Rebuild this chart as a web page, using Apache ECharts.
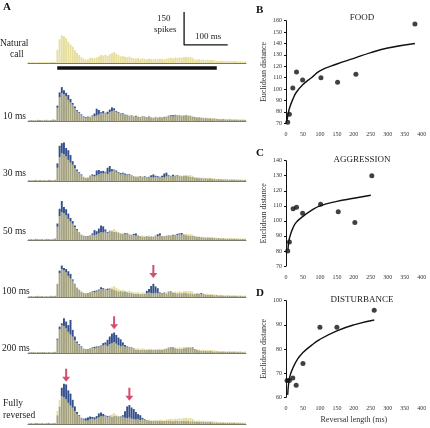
<!DOCTYPE html>
<html><head><meta charset="utf-8">
<script src="https://cdn.jsdelivr.net/npm/echarts@6/dist/echarts.min.js"></script>
<style>html,body{margin:0;padding:0;background:#fff}#c{width:430px;height:428px}</style>
</head><body><div id="c"></div>
<script>
// ---------- Panel A data (spikes per 5 ms bin, 0-500 ms) ----------
const BIN_MS = 5;
const natural = [4,3,5,3,4,4,3,5,4,3, 4,5,4,60,108,126,122,112,96,84, 74,58,46,36,26,20,15,16,22,24,
  21,25,30,36,34,38,32,40,44,50, 42,36,30,33,28,26,29,24,22,20, 23,18,21,19,17,20,18,16,19,17,
  20,18,16,21,22,24,21,25,23,26, 24,27,28,26,27,24,16,15,17,14, 16,13,15,12,14,12,10,9,10,8, 9,8,10,7,9,8,7,8,6,7];
const rev10 = [3,4,4,3,5,4,3,4,5,3, 4,6,5,70,130,154,140,128,118,100, 82,66,50,40,30,22,18,20,18,26,
  34,56,50,40,45,38,42,52,62,58, 46,40,34,36,30,28,24,26,22,24, 20,18,22,20,18,22,17,15,18,16,
  18,17,19,20,24,27,26,28,25,27, 24,26,27,25,23,20,18,16,17,15, 13,14,12,13,11,12,10,9,8,9, 8,7,8,7,6,7,6,5,6,5];
const rev30 = [4,3,4,5,3,4,3,4,3,5, 4,3,5,80,160,172,175,150,140,118, 90,72,52,40,30,18,14,16,24,30,
  28,48,50,44,46,42,60,68,54,52, 48,40,36,38,34,30,32,26,22,20, 18,21,19,22,18,20,26,30,24,22,
  20,24,34,38,26,24,28,25,26,24, 22,23,25,22,20,18,16,15,13,14, 12,13,11,12,10,9,8,9,8,7, 8,7,6,7,6,5,6,5,4,5];
const rev50 = [3,4,3,5,4,3,4,3,5,4, 3,4,6,75,142,177,150,140,120,100, 86,66,50,36,24,20,17,18,22,30,
  45,40,52,66,62,48,36,42,40,38, 37,34,30,28,32,30,26,24,28,30, 22,18,16,15,18,16,17,15,20,26,
  30,18,17,20,22,21,24,23,28,30, 32,26,22,21,20,18,17,15,14,13, 12,11,12,10,11,9,8,9,7,8, 7,6,7,6,5,6,5,4,5,4];
const rev100 = [3,4,3,4,5,3,4,3,4,3, 5,4,5,60,120,143,132,127,117,105, 80,60,42,32,24,18,16,18,22,26,
  28,30,34,44,40,36,38,40,36,34, 30,26,27,25,26,22,20,18,16,14, 15,13,14,15,28,36,50,60,48,40,
  22,18,20,16,24,26,20,18,16,18, 17,19,18,16,17,15,14,16,15,18, 14,12,10,9,10,8,9,7,8,7, 6,7,6,5,6,5,4,5,4,4];
const rev200 = [3,4,5,3,4,3,4,5,3,4, 3,4,5,65,120,135,158,143,127,150, 105,75,52,40,30,20,17,18,22,26,
  28,30,32,36,45,48,60,75,88,93, 82,70,62,48,36,30,28,26,22,16, 15,14,16,15,14,15,16,14,15,16,
  14,15,17,20,24,26,25,22,20,18, 20,22,24,26,25,26,18,15,12,10, 9,10,8,9,8,7,8,7,6,7, 6,5,6,5,5,4,5,4,4,3];
const revFull = [3,4,3,5,4,3,4,3,4,5, 3,4,4,40,80,165,183,180,153,138, 110,80,55,40,28,24,26,30,34,32,
  30,36,48,52,46,40,36,38,34,36, 38,35,34,40,58,80,86,75,68,55, 45,40,28,22,18,16,15,14,16,15,
  14,13,15,14,16,15,13,14,15,13, 14,15,13,14,12,13,11,12,10,11, 9,10,8,9,8,7,8,7,6,7, 6,5,6,5,5,4,5,4,4,3];
const rowNames = ['Natural\ncall', '10 ms', '30 ms', '50 ms', '100 ms', '200 ms', 'Fully\nreversed'];
const stimulusMs = [67, 433];
const scaleBarMs = [358, 458];      // 100 ms
const scaleBarSpikes = [82, 232];   // 150 spikes
const arrowsRow100 = [[287.5, 86]];               // [ms, spikes]
const arrowsRow200 = [[197.5, 108]];
const arrowsRowFull = [[87.5, 192], [232.5, 106]];

// ---------- Panels B-D data ----------
const foodPts = [[5,71],[10,78],[20,101],[31,115],[49,108],[103,110],[152,106],[206,113],[380,157]];
const foodFit = [[3,72],[5,76],[10,83],[20,91],[30,97],[50,104],[75,110],[100,116],[150,122],[200,127],[250,132],[300,136],[380,140]];
const aggrPts = [[5,80],[10,86],[21,108],[31,109],[49,105],[102,111],[154,106],[203,99],[253,130]];
const aggrFit = [[6,81],[8,86],[12,90],[20,95],[30,99],[50,103],[75,107],[100,110],[150,113],[200,115],[250,117]];
const distPts = [[3,67],[10,67],[20,68],[30,65],[50,74],[100,89],[150,89],[260,96]];
const distFit = [[5,61],[8,66],[12,69],[20,72],[35,76],[50,78.5],[75,81.5],[100,84],[150,87.5],[200,90],[260,92]];

// ---------- build ----------
const times = natural.map((_, i) => BIN_MS * (i + 0.5));
const YEL = '#e6de9e', OLV = '#a5a37f', BLU = '#34508c', RED = '#c8234e';
const SERIF = 'Liberation Serif';
const baselines = [63, 121, 181, 240, 297, 353, 424];
const revs = [null, rev10, rev30, rev50, rev100, rev200, revFull];
const arrowSets = {4: arrowsRow100, 5: arrowsRow200, 6: arrowsRowFull};
const ARROW = 'path://M3,0 L5,0 L5,8 L8,8 L4,13 L0,8 L3,8 Z';

const grid = [], xAxis = [], yAxis = [], series = [], graphic = [];
const PXPS = 44 / 200; // px per spike

baselines.forEach((b, k) => {
  const ymin = k === 0 ? -30 : 0, ymax = k === 0 ? 250 : 200;
  grid.push({left: 28, width: 218, top: b - ymax * PXPS, height: (ymax - ymin) * PXPS});
  xAxis.push({gridIndex: k, type: 'category', data: times, boundaryGap: true,
    axisLine: {show: true, onZero: true, lineStyle: {color: '#7a7a6a', width: 1}},
    axisTick: {show: false}, axisLabel: {show: false}, splitLine: {show: false}});
  yAxis.push({gridIndex: k, type: 'value', min: ymin, max: ymax, show: false, splitLine: {show: false}});
});
// extra time axis for stimulus & scale bar in the natural-call grid
xAxis.push({gridIndex: 0, type: 'value', min: 0, max: 500, show: false, splitLine: {show: false}});
const TIME_AX = xAxis.length - 1;

const bw = '12%';
baselines.forEach((b, k) => {
  if (k === 0) {
    series.push({type: 'bar', xAxisIndex: 0, yAxisIndex: 0, barCategoryGap: bw, itemStyle: {color: YEL},
      data: natural});
    series.push({type: 'line', xAxisIndex: TIME_AX, yAxisIndex: 0, symbol: 'none', lineStyle: {color: '#111', width: 3.5},
      data: stimulusMs.map(t => [t, -23])});
    series.push({type: 'line', xAxisIndex: TIME_AX, yAxisIndex: 0, symbol: 'none', lineStyle: {color: '#111', width: 1.3},
      data: [[scaleBarMs[0], scaleBarSpikes[1]], [scaleBarMs[0], scaleBarSpikes[0]], [scaleBarMs[1], scaleBarSpikes[0]]]});
  } else {
    const r = revs[k];
    series.push({type: 'bar', stack: 's' + k, xAxisIndex: k, yAxisIndex: k, barCategoryGap: bw, itemStyle: {color: OLV},
      data: r.map((v, i) => Math.min(v, natural[i]))});
    series.push({type: 'bar', stack: 's' + k, xAxisIndex: k, yAxisIndex: k, barCategoryGap: bw, itemStyle: {color: BLU},
      data: r.map((v, i) => Math.max(v - natural[i], 0))});
    series.push({type: 'bar', stack: 's' + k, xAxisIndex: k, yAxisIndex: k, barCategoryGap: bw, itemStyle: {color: YEL},
      data: r.map((v, i) => Math.max(natural[i] - v, 0))});
    if (arrowSets[k]) {
      series.push({type: 'scatter', xAxisIndex: k, yAxisIndex: k, symbol: ARROW, symbolSize: [8, 13],
        symbolOffset: [0, '-50%'], itemStyle: {color: RED}, z: 10,
        data: arrowSets[k].map(a => [Math.floor(a[0] / BIN_MS), a[1]])});
    }
  }
});

// row labels
const rowLabelPos = [[[0, 44], [10, 55]], [[3, 117]], [[3, 174]], [[3, 232]], [[2, 292]], [[2, 349]], [[3, 404], [3, 416]]];
rowNames.forEach((n, k) => {
  n.split('\n').forEach((line, j) => {
    graphic.push({type: 'text', left: rowLabelPos[k][j][0], top: rowLabelPos[k][j][1] - 6,
      style: {text: line, font: '9.5px ' + SERIF, fill: '#222'}});
  });
});
graphic.push({type: 'text', left: 3, top: 2, style: {text: 'A', font: 'bold 11px ' + SERIF, fill: '#111'}});
graphic.push({type: 'text', left: 157, top: 14, style: {text: '150', font: '9px ' + SERIF, fill: '#222'}});
graphic.push({type: 'text', left: 154, top: 25, style: {text: 'spikes', font: '9px ' + SERIF, fill: '#222'}});
graphic.push({type: 'text', left: 195, top: 32, style: {text: '100 ms', font: '9px ' + SERIF, fill: '#222'}});

// panels B-D
const panels = [
  {pts: foodPts, fit: foodFit, top: 20.7, h: 102.6, min: 70, max: 160, letter: 'B', letterY: 5, title: 'FOOD', titleY: 13, xname: ''},
  {pts: aggrPts, fit: aggrFit, top: 160.7, h: 105.3, min: 70, max: 140, letter: 'C', letterY: 148, title: 'AGGRESSION', titleY: 155, xname: ''},
  {pts: distPts, fit: distFit, top: 300.7, h: 96.6, min: 60, max: 100, letter: 'D', letterY: 288, title: 'DISTURBANCE', titleY: 295, xname: 'Reversal length (ms)'}
];
panels.forEach((p, j) => {
  const g = 7 + j;
  grid.push({left: 286, right: 8.3, top: p.top, height: p.h});
  xAxis.push({gridIndex: g, type: 'value', min: 0, max: 400, interval: 50,
    axisLine: {show: false, onZero: false}, axisTick: {show: false}, splitLine: {show: false},
    axisLabel: {fontSize: 6, fontFamily: SERIF, color: '#333', margin: 8, showMaxLabel: true},
    name: p.xname, nameLocation: 'middle', nameGap: 19, nameTextStyle: {fontSize: 8, fontFamily: SERIF, color: '#333'}});
  const xi = xAxis.length - 1;
  yAxis.push({gridIndex: g, type: 'value', min: p.min, max: p.max, interval: 10, offset: 2,
    axisLine: {show: true, lineStyle: {color: '#111', width: 1}}, axisTick: {show: true, length: 2, lineStyle: {color: '#111'}},
    splitLine: {show: false},
    axisLabel: {fontSize: 6, fontFamily: SERIF, color: '#333', margin: 2},
    name: 'Euclidean distance', nameLocation: 'middle', nameRotate: 90, nameGap: 16,
    nameTextStyle: {fontSize: 8, fontFamily: SERIF, color: '#333'}});
  const yi = yAxis.length - 1;
  series.push({type: 'line', xAxisIndex: xi, yAxisIndex: yi, smooth: true, symbol: 'none',
    lineStyle: {color: '#111', width: 1.4}, data: p.fit});
  series.push({type: 'scatter', xAxisIndex: xi, yAxisIndex: yi, symbolSize: 5, itemStyle: {color: '#111'}, data: p.pts, z: 5});
  graphic.push({type: 'text', left: 256, top: p.letterY, style: {text: p.letter, font: 'bold 11px ' + SERIF, fill: '#111'}});
  graphic.push({type: 'text', x: 362, y: p.titleY, style: {text: p.title, font: '9px ' + SERIF, fill: '#222', align: 'center', textAlign: 'center'}});
});

const chart = echarts.init(document.getElementById('c'), null, {renderer: 'canvas'});
chart.setOption({animation: false, backgroundColor: '#fff', grid, xAxis, yAxis, series, graphic});
</script></body></html>
